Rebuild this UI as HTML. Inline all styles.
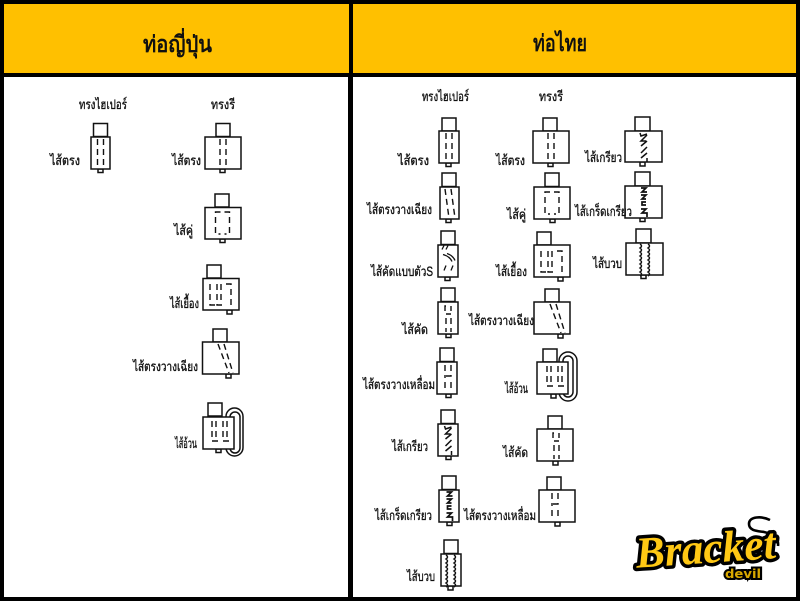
<!DOCTYPE html>
<html><head><meta charset="utf-8"><style>
html,body{margin:0;padding:0;background:#000}
svg{display:block}
.b{fill:#fff;stroke:#111;stroke-width:1.5}
.d{fill:none;stroke:#111;stroke-width:1.4;stroke-dasharray:6 4}
.w{fill:none;stroke:#111;stroke-width:1.3}
text{font-family:"Liberation Sans","DejaVu Sans","WenQuanYi Zen Hei",sans-serif;fill:#111;font-size:13.5px;stroke:#111;stroke-width:.35px}
</style></head><body>
<svg width="800" height="601" viewBox="0 0 800 601" xmlns="http://www.w3.org/2000/svg">
<defs>
<g id="str"><path class="d" d="M0 2V31M6 2V31"/></g>
<g id="tilt"><path class="d" d="M0 2L4 31M6 2L10 31"/></g>
<g id="longtilt"><path class="d" d="M0 2L11 31M6 2L15 31"/></g>
<g id="pair"><path class="d" d="M5 0H0V22H5M9 0H14V22H9"/></g>
<g id="side"><path class="d" d="M0 3V24H5M7 3V24H12M16 3H21V24"/><path class="d" d="M11 3V20"/></g>
<g id="fat"><path class="d" d="M0 2V22H6M11 2V22H17"/><path class="d" d="M4 2V20M15 2V20"/></g>
<g id="cut"><path class="d" d="M1 4H0V12H6M6 4V9"/><path class="d" d="M1 16V30M6 16V30"/></g>
<g id="over"><path class="d" d="M0 3V16M6 3V14H0"/><path class="d" d="M0 20V30M6 20V30"/></g>
<g id="twist"><path class="w" style="stroke-width:1.5" d="M0 2L1 5L7 3M7 4L1 10H6M7 10L1 15M7 16L1 22M7 22L1 27M7 27V31"/></g>
<g id="scale"><path class="w" style="stroke-width:1.7" d="M1 2H6L2 6H7M1 9H6L2 13H6M6 16H2V19H6M1 23H6L2 27H7V31"/></g>
<g id="bub"><path class="w" style="stroke-width:1.4" d="M0 0q3 2 0 4q3 2 0 4q3 2 0 4q3 2 0 4q3 2 0 4q3 2 0 4q3 2 0 4q3 2 0 4M8 0q3 2 0 4q3 2 0 4q3 2 0 4q3 2 0 4q3 2 0 4q3 2 0 4q3 2 0 4q3 2 0 4"/></g>
<g id="tr"><path class="w" d="M1 4L3 0M5 4L7 0"/><path class="w" d="M2 9Q9 11 11 16M6 8Q12 10 14 15"/><path class="w" d="M3 25L5 20M10 25L12 20"/></g>
</defs>

<rect width="800" height="601" fill="#000"/>
<rect x="4" y="4" width="345" height="69" fill="#ffc000"/>
<rect x="353" y="4" width="443" height="69" fill="#ffc000"/>
<rect x="4" y="77" width="344" height="520" fill="#fff"/>
<rect x="353" y="77" width="443" height="520" fill="#fff"/>

<text x="143" y="52" textLength="69" lengthAdjust="spacingAndGlyphs" style="font-size:23px;stroke-width:.8px">ท่อญี่ปุ่น</text>
<text x="533" y="51" textLength="54" lengthAdjust="spacingAndGlyphs" style="font-size:23px;stroke-width:.8px">ท่อไทย</text>

<text x="79" y="109" textLength="48" lengthAdjust="spacingAndGlyphs">ทรงไฮเปอร์</text>
<text x="211" y="109" textLength="24" lengthAdjust="spacingAndGlyphs">ทรงรี</text>
<text x="50" y="165" textLength="30" lengthAdjust="spacingAndGlyphs">ไส้ตรง</text>
<text x="172" y="165" textLength="29" lengthAdjust="spacingAndGlyphs">ไส้ตรง</text>
<text x="174" y="235" textLength="19" lengthAdjust="spacingAndGlyphs">ไส้คู่</text>
<text x="170" y="308" textLength="29" lengthAdjust="spacingAndGlyphs">ไส้เยื้อง</text>
<text x="133" y="371" textLength="65" lengthAdjust="spacingAndGlyphs">ไส้ตรงวางเฉียง</text>
<text x="175" y="448" textLength="22" lengthAdjust="spacingAndGlyphs">ไส้อ้วน</text>

<text x="422" y="101" textLength="47" lengthAdjust="spacingAndGlyphs">ทรงไฮเปอร์</text>
<text x="539" y="101" textLength="24" lengthAdjust="spacingAndGlyphs">ทรงรี</text>
<text x="398" y="165" textLength="31" lengthAdjust="spacingAndGlyphs">ไส้ตรง</text>
<text x="496" y="165" textLength="29" lengthAdjust="spacingAndGlyphs">ไส้ตรง</text>
<text x="585" y="162" textLength="37" lengthAdjust="spacingAndGlyphs">ไส้เกรียว</text>
<text x="367" y="214" textLength="65" lengthAdjust="spacingAndGlyphs">ไส้ตรงวางเฉียง</text>
<text x="507" y="219" textLength="19" lengthAdjust="spacingAndGlyphs">ไส้คู่</text>
<text x="371" y="276" textLength="62" lengthAdjust="spacingAndGlyphs">ไส้คัดแบบตัวS</text>
<text x="496" y="276" textLength="31" lengthAdjust="spacingAndGlyphs">ไส้เยื้อง</text>
<text x="593" y="268" textLength="29" lengthAdjust="spacingAndGlyphs">ไส้บวบ</text>
<text x="402" y="334" textLength="26" lengthAdjust="spacingAndGlyphs">ไส้คัด</text>
<text x="363" y="389" textLength="72" lengthAdjust="spacingAndGlyphs">ไส้ตรงวางเหลื่อม</text>
<text x="505" y="393" textLength="23" lengthAdjust="spacingAndGlyphs">ไส้อ้วน</text>
<text x="392" y="451" textLength="36" lengthAdjust="spacingAndGlyphs">ไส้เกรียว</text>
<text x="503" y="457" textLength="25" lengthAdjust="spacingAndGlyphs">ไส้คัด</text>
<text x="375" y="520" textLength="57" lengthAdjust="spacingAndGlyphs">ไส้เกร็ดเกรียว</text>
<text x="407" y="581" textLength="28" lengthAdjust="spacingAndGlyphs">ไส้บวบ</text>

<!-- left shapes -->
<rect class="b" x="93.5" y="123.5" width="14" height="13"/><rect class="b" x="98" y="169" width="5" height="3.5"/><rect class="b" x="91" y="137" width="19" height="32"/><use href="#str" x="97.5" y="137"/>
<rect class="b" x="216" y="123.5" width="14" height="13"/><rect class="b" x="220" y="169" width="5" height="3.5"/><rect class="b" x="205" y="137" width="36" height="32"/><use href="#str" x="220" y="137"/>
<rect class="b" x="215" y="194" width="14" height="13"/><rect class="b" x="220" y="239" width="5" height="3.5"/><rect class="b" x="205" y="207.5" width="36" height="31.5"/><use href="#pair" x="215.5" y="212"/>
<rect class="b" x="207" y="265" width="14" height="13"/><rect class="b" x="227" y="310" width="5" height="4"/><rect class="b" x="203" y="278.5" width="36" height="31.5"/><use href="#side" x="210" y="281"/>
<rect class="b" x="213" y="329" width="14" height="13"/><rect class="b" x="226" y="374" width="5" height="4"/><rect class="b" x="202.5" y="342" width="36.5" height="32"/><use href="#longtilt" x="218" y="342"/>
<rect class="b" x="226" y="408" width="17" height="48" rx="8.5"/><rect class="b" x="230" y="412" width="10" height="41" rx="5"/>
<rect class="b" x="208" y="403" width="14" height="13"/><rect class="b" x="216" y="449" width="5" height="3.5"/><rect class="b" x="203" y="417" width="31" height="32"/><use href="#fat" x="212" y="419"/>

<!-- right col 1 -->
<rect class="b" x="442" y="118" width="14" height="13"/><rect class="b" x="446" y="163" width="5" height="3.5"/><rect class="b" x="439" y="131" width="20" height="32"/><use href="#str" x="446" y="131"/>
<rect class="b" x="442" y="173" width="14" height="13.5"/><rect class="b" x="446" y="219" width="5" height="3.5"/><rect class="b" x="440" y="187" width="19" height="32"/><use href="#tilt" x="445" y="187"/>
<rect class="b" x="441" y="231" width="14" height="13.5"/><rect class="b" x="445" y="277" width="5" height="3.5"/><rect class="b" x="438" y="245" width="20" height="32"/><use href="#tr" x="441" y="245.5"/>
<rect class="b" x="441" y="288" width="14" height="13.5"/><rect class="b" x="446" y="334" width="5" height="3.5"/><rect class="b" x="438" y="302" width="20" height="32"/><use href="#cut" x="445" y="302"/>
<rect class="b" x="440" y="348" width="14" height="13.5"/><rect class="b" x="446" y="394" width="5" height="3.5"/><rect class="b" x="437" y="362" width="20" height="32"/><use href="#over" x="445" y="362"/>
<rect class="b" x="441" y="410" width="14" height="13.5"/><rect class="b" x="446" y="456" width="5" height="3.5"/><rect class="b" x="438" y="424" width="20" height="32"/><use href="#twist" x="444.5" y="424"/>
<rect class="b" x="442" y="476" width="14" height="13.5"/><rect class="b" x="447" y="522" width="5" height="3.5"/><rect class="b" x="439" y="490" width="20" height="32"/><use href="#scale" x="445.5" y="490"/>
<rect class="b" x="444" y="540" width="14" height="13.5"/><rect class="b" x="448" y="586" width="5" height="4"/><rect class="b" x="441" y="554" width="20" height="32"/><use href="#bub" x="446" y="555"/>

<!-- right col 2 -->
<rect class="b" x="543" y="118" width="14" height="13"/><rect class="b" x="548" y="163" width="5" height="3.5"/><rect class="b" x="533" y="131" width="36" height="32"/><use href="#str" x="548" y="131"/>
<rect class="b" x="545" y="173" width="14" height="13.5"/><rect class="b" x="550" y="219" width="5" height="3.5"/><rect class="b" x="534" y="187" width="36" height="32"/><use href="#pair" x="545" y="192"/>
<rect class="b" x="537" y="232" width="14" height="13"/><rect class="b" x="558" y="277" width="5" height="4"/><rect class="b" x="534" y="245" width="36" height="32"/><use href="#side" x="541" y="248"/>
<rect class="b" x="545" y="289" width="14" height="13"/><rect class="b" x="558" y="334" width="5" height="4"/><rect class="b" x="534" y="302" width="36" height="32"/><use href="#longtilt" x="550" y="302"/>
<rect class="b" x="559" y="352" width="18" height="49" rx="9"/><rect class="b" x="563" y="356" width="10" height="41" rx="5"/>
<rect class="b" x="543" y="349" width="14" height="13"/><rect class="b" x="551" y="394" width="5" height="4"/><rect class="b" x="537" y="362" width="31" height="32"/><use href="#fat" x="547" y="364"/>
<rect class="b" x="548" y="416" width="14" height="13"/><rect class="b" x="553" y="461" width="5" height="4"/><rect class="b" x="537" y="429" width="36" height="32"/><use href="#cut" x="553" y="429"/>
<rect class="b" x="547" y="477" width="14" height="13"/><rect class="b" x="555" y="522" width="5" height="4"/><rect class="b" x="539" y="490" width="36" height="32"/><use href="#over" x="552" y="490"/>

<!-- right col 3 -->
<rect class="b" x="635" y="117" width="15" height="14"/><rect class="b" x="640" y="162" width="5" height="4"/><rect class="b" x="625" y="131" width="37" height="31"/><use href="#twist" x="640" y="131"/>
<rect class="b" x="635" y="172" width="15" height="14"/><rect class="b" x="640" y="218" width="5" height="3.5"/><rect class="b" x="625" y="186" width="37" height="32"/><use href="#scale" x="640" y="186"/>
<rect class="b" x="636" y="229" width="15" height="14"/><rect class="b" x="641" y="275" width="5" height="3.5"/><rect class="b" x="626" y="243" width="37" height="32"/><use href="#bub" x="640" y="244"/>

<text x="575" y="216" textLength="57" lengthAdjust="spacingAndGlyphs">ไส้เกร็ดเกรียว</text>
<text x="469" y="325" textLength="65" lengthAdjust="spacingAndGlyphs">ไส้ตรงวางเฉียง</text>
<text x="464" y="520" textLength="72" lengthAdjust="spacingAndGlyphs">ไส้ตรงวางเหลื่อม</text>

<!-- logo -->
<path d="M770 520C762 516 749 516 749 524C749 531 758 531 764 532C773 534 779 538 778 546" fill="none" stroke="#000" stroke-width="2.6"/>
<text x="636" y="563" textLength="140" lengthAdjust="spacingAndGlyphs" transform="rotate(-4 705 555)" style="font-family:'Liberation Serif',serif;font-style:italic;font-weight:bold;font-size:44px;fill:#ffc814;stroke:#000;stroke-width:7px;paint-order:stroke;stroke-linejoin:round">Bracket</text>
<text x="725" y="578" textLength="36" lengthAdjust="spacingAndGlyphs" style="font-family:'DejaVu Sans',sans-serif;font-weight:bold;font-size:12px;fill:#d9a800;stroke:#000;stroke-width:4px;paint-order:stroke">devil</text>
</svg>
</body></html>
